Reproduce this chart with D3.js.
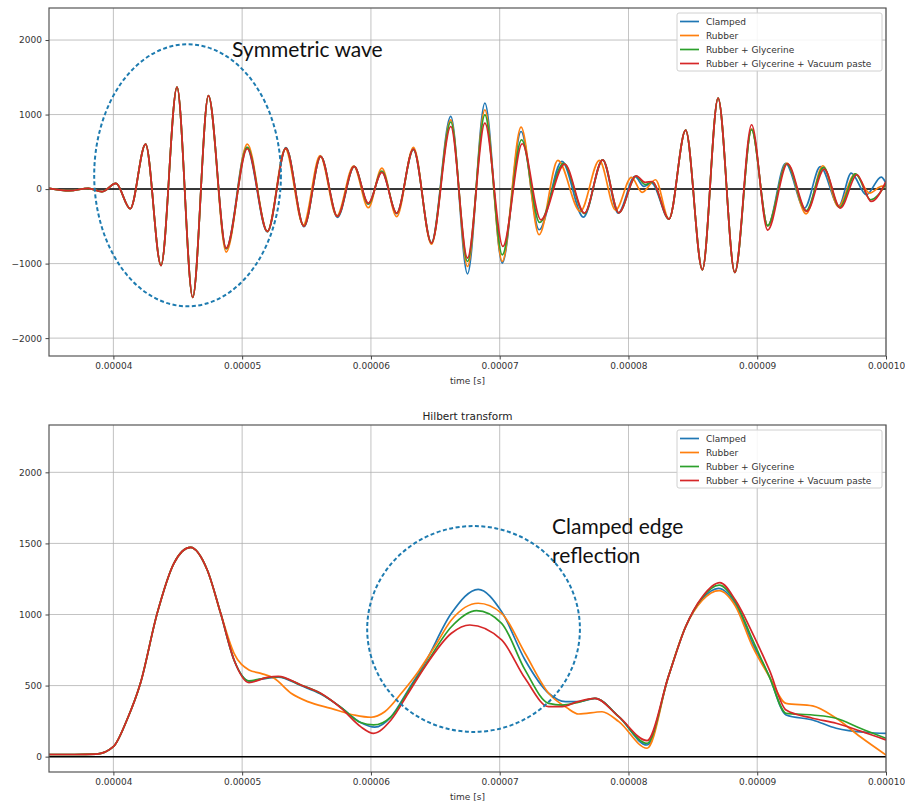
<!DOCTYPE html>
<html><head><meta charset="utf-8">
<script src="https://cdn.jsdelivr.net/npm/d3@7"></script>
<style>body{margin:0;background:#fff}</style>
</head><body><svg id="c" width="905" height="804"></svg>
<script>
// ---------- data (time in microseconds) ----------
const seriesNames = ["Clamped", "Rubber", "Rubber + Glycerine", "Rubber + Glycerine + Vacuum paste"];
const seriesColors = ["#1f77b4", "#ff7f0e", "#2ca02c", "#d62728"];
const xTickValues = [40, 50, 60, 70, 80, 90, 100];
const xTickLabels = ["0.00004", "0.00005", "0.00006", "0.00007", "0.00008", "0.00009", "0.00010"];
const topYTicks = [-2000, -1000, 0, 1000, 2000];
const topYLabels = ["\u22122000", "\u22121000", "0", "1000", "2000"];
const botYTicks = [0, 500, 1000, 1500, 2000];
const botYLabels = ["0", "500", "1000", "1500", "2000"];

// raw signal: shared onset, then per-series extrema
const waveOnset = [[35,10],[36.6,-22],[38.06,10],[39.1,-35],[40.2,76],[41.31,-264],[42.5,604],[43.7,-1025],[44.94,1369],[46.16,-1454],[47.38,1253]];
const waveClamped = [[48.76,-800],[50.35,560],[51.96,-575],[53.4,555],[54.8,-505],[56.1,440],[57.4,-380],[58.7,300],[59.8,-200],[60.85,230],[62.0,-330],[63.3,530],[64.7,-720],[66.2,975],[67.5,-1137],[68.85,1154],[70.2,-993],[71.66,773],[73.06,-546],[74.83,371],[76.5,-376],[78.0,393],[79.2,-322],[80.5,170],[81.2,35],[81.8,80],[83.15,-403],[84.44,790],[85.74,-1083],[86.96,1221],[88.26,-1119],[89.56,805],[90.81,-493],[92.2,345],[93.67,-255],[94.9,300],[96.34,-224],[97.3,215],[98.47,-77],[99.63,161],[100,80]];
const waveRubber = [[48.76,-845],[50.4,604],[51.96,-570],[53.35,540],[54.75,-480],[56.05,450],[57.35,-360],[58.65,310],[59.8,-250],[60.85,282],[62.0,-370],[63.3,560],[64.7,-740],[66.2,930],[67.5,-1039],[68.85,1064],[70.2,-971],[71.66,832],[73.06,-613],[74.52,384],[76.26,-300],[77.74,385],[79.0,-282],[80.23,156],[81.06,-45],[82.1,125],[83.15,-403],[84.44,790],[85.74,-1083],[86.96,1221],[88.26,-1119],[89.56,805],[90.81,-493],[92.3,349],[93.8,-332],[95.1,313],[96.3,-235],[97.6,205],[98.72,-54],[99.7,40],[100,35]];
const waveGlycerine = [[48.76,-800],[50.4,560],[51.96,-568],[53.4,550],[54.8,-500],[56.1,438],[57.4,-367],[58.7,304],[59.8,-200],[60.85,240],[62.0,-322],[63.3,537],[64.7,-725],[66.2,900],[67.5,-972],[68.85,997],[70.2,-882],[71.7,662],[73.1,-448],[74.96,345],[76.58,-330],[78.0,393],[79.25,-318],[80.6,175],[81.3,60],[81.84,95],[83.15,-403],[84.44,790],[85.74,-1083],[86.96,1221],[88.26,-1119],[89.56,796],[90.81,-490],[92.3,340],[93.8,-290],[95.15,290],[96.4,-245],[97.64,205],[98.8,-143],[100,70]];
const waveVacuum = [[48.76,-792],[50.4,541],[51.96,-568],[53.4,550],[54.8,-500],[56.1,438],[57.4,-367],[58.7,304],[59.8,-188],[60.85,225],[62.0,-322],[63.3,537],[64.7,-725],[66.2,840],[67.5,-926],[68.85,886],[70.25,-770],[71.75,608],[73.2,-412],[75.04,335],[76.58,-322],[78.0,393],[79.25,-318],[80.6,178],[81.3,90],[81.84,102],[83.15,-403],[84.44,790],[85.74,-1083],[86.96,1221],[88.26,-1119],[89.56,863],[90.81,-550],[92.35,340],[93.85,-300],[95.2,268],[96.45,-255],[97.75,192],[98.85,-166],[100,102]];

// Hilbert envelope: shared onset, then per-series
const envOnset = [[35,15],[37,15],[38.7,18],[40,70],[41.05,258],[42.1,516],[43.4,1008],[44.7,1360],[45.99,1472],[47.29,1313],[48.33,1008]];
const envClamped = [[49.37,680],[50.6,530],[51.5,545],[52.8,560],[54.56,500],[56.1,440],[57.7,345],[59.2,240],[60.3,207],[61.56,280],[62.9,470],[64.2,660],[66.25,1008],[68.33,1177],[70.15,1020],[71.97,680],[73.8,446],[75.1,387],[76.2,387],[77.4,410],[79.25,281],[81.45,82],[83.1,563],[84.44,914],[85.74,1110],[87.0,1184],[88.3,1075],[89.64,797],[90.94,563],[92.24,293],[94.3,258],[96.13,200],[98.5,170],[100,164]];
const envRubber = [[49.37,727],[50.53,610],[51.45,586],[52.49,551],[53.8,446],[55.1,387],[56.9,340],[58.7,293],[60.0,277],[61.07,316],[62.36,446],[63.67,598],[64.95,774],[66.25,961],[68.33,1079],[70.15,1008],[71.97,727],[73.8,446],[75.2,345],[76.13,300],[77.95,316],[79.25,246],[81.45,59],[83.1,563],[84.44,914],[85.74,1100],[87.04,1168],[88.3,1060],[89.64,774],[90.94,563],[92.24,375],[94.3,357],[96.13,270],[98,140],[100,12]];
const envGlycerine = [[49.37,680],[50.53,533],[51.5,548],[52.8,562],[54.56,504],[56.1,445],[57.7,345],[59.2,240],[60.2,223],[61.56,280],[62.9,460],[64.2,640],[66.25,914],[68.2,1027],[70.15,938],[71.97,610],[73.8,375],[74.85,363],[76,380],[77.4,410],[79.25,281],[81.45,94],[83.1,563],[84.44,914],[85.74,1120],[87.04,1207],[88.3,1090],[89.64,821],[90.94,563],[92.24,305],[94.3,293],[96.13,270],[98,200],[100,129]];
const envVacuum = [[49.37,680],[50.53,521],[51.96,558],[52.8,565],[54.56,504],[56.1,446],[57.7,340],[59.2,211],[60.2,164],[61.56,258],[62.9,446],[64.2,633],[66.25,868],[67.68,926],[70.15,821],[71.97,551],[73.8,352],[74.85,352],[76,385],[77.4,410],[79.25,281],[81.45,113],[83.1,563],[84.44,914],[85.74,1125],[87.1,1224],[88.3,1102],[89.64,868],[90.94,610],[92.24,328],[94.3,270],[96.13,235],[98,180],[100,117]];

const topSeries = [waveClamped, waveRubber, waveGlycerine, waveVacuum].map(s => waveOnset.concat(s));
const botSeries = [envClamped, envRubber, envGlycerine, envVacuum].map(s => envOnset.concat(s));

// ---------- drawing ----------
const svg = d3.select("#c");
const L = 49, R = 886;
const font = "DejaVu Sans, sans-serif";
const annoFont = "Lato, 'Noto Sans', sans-serif";

function panel(id, top, bottom, yDomain, yTicks, yLabels, series, legendY) {
  const x = d3.scaleLinear().domain([35, 100]).range([L, R]);
  const y = d3.scaleLinear().domain(yDomain).range([bottom, top]);
  const g = svg.append("g");
  g.append("clipPath").attr("id", "clip" + id).append("rect")
    .attr("x", L).attr("y", top).attr("width", R - L).attr("height", bottom - top);
  g.selectAll(".gx").data(xTickValues).join("line")
    .attr("x1", d => x(d)).attr("x2", d => x(d)).attr("y1", top).attr("y2", bottom)
    .attr("stroke", "#b0b0b0").attr("stroke-width", 0.9).attr("opacity", 0.85);
  g.selectAll(".gy").data(yTicks).join("line")
    .attr("x1", L).attr("x2", R).attr("y1", d => y(d)).attr("y2", d => y(d))
    .attr("stroke", "#b0b0b0").attr("stroke-width", 0.9).attr("opacity", 0.85);
  g.append("line").attr("x1", L).attr("x2", R).attr("y1", y(0)).attr("y2", y(0))
    .attr("stroke", "#000").attr("stroke-width", 1.5);
  const line = d3.line().x(d => x(d[0])).y(d => y(d[1])).curve(d3.curveMonotoneX);
  const lg = g.append("g").attr("clip-path", `url(#clip${id})`);
  series.forEach((s, i) => {
    lg.append("path").attr("d", line(s)).attr("fill", "none")
      .attr("stroke", seriesColors[i]).attr("stroke-width", 1.7).attr("stroke-linejoin", "round");
  });
  g.append("rect").attr("x", L).attr("y", top).attr("width", R - L).attr("height", bottom - top)
    .attr("fill", "none").attr("stroke", "#555").attr("stroke-width", 1.2);
  const ax = g.append("g").attr("transform", `translate(0,${bottom})`)
    .call(d3.axisBottom(x).tickValues(xTickValues).tickFormat((d, i) => xTickLabels[i]).tickSize(3.5).tickPadding(3.5));
  const ay = g.append("g").attr("transform", `translate(${L},0)`)
    .call(d3.axisLeft(y).tickValues(yTicks).tickFormat((d, i) => yLabels[i]).tickSize(3.5).tickPadding(3.5));
  [ax, ay].forEach(a => {
    a.select(".domain").remove();
    a.selectAll("line").attr("stroke", "#444");
    a.selectAll("text").attr("font-family", font).attr("font-size", 9).attr("fill", "#333");
  });
  g.append("text").attr("x", (L + R) / 2).attr("y", bottom + 28).attr("text-anchor", "middle")
    .attr("font-family", font).attr("font-size", 9).attr("fill", "#333").text("time [s]");
  const leg = g.append("g").attr("transform", `translate(677,${legendY})`);
  leg.append("rect").attr("width", 205).attr("height", 58).attr("rx", 2)
    .attr("fill", "#fff").attr("fill-opacity", 0.85).attr("stroke", "#d0d0d0");
  seriesNames.forEach((n, i) => {
    const yy = 8.5 + i * 14;
    leg.append("line").attr("x1", 3).attr("x2", 22).attr("y1", yy).attr("y2", yy)
      .attr("stroke", seriesColors[i]).attr("stroke-width", 1.7);
    leg.append("text").attr("x", 29).attr("y", yy + 3.2).attr("font-family", font)
      .attr("font-size", 9).attr("fill", "#333").text(n);
  });
  return {x, y};
}

const p1 = panel(1, 8, 356, [-2240, 2430], topYTicks, topYLabels, topSeries, 13);
const p2 = panel(2, 425, 772, [-108, 2333], botYTicks, botYLabels, botSeries, 430);

svg.append("text").attr("x", (L + R) / 2).attr("y", 420).attr("text-anchor", "middle")
  .attr("font-family", font).attr("font-size", 10.5).attr("fill", "#222").text("Hilbert transform");

const ellipseColor = "#1d7bb0";
svg.append("ellipse").attr("cx", p1.x(45.76)).attr("cy", p1.y(185))
  .attr("rx", p1.x(45.76 + 7.25) - p1.x(45.76)).attr("ry", p1.y(185) - p1.y(185 + 1758))
  .attr("fill", "none").attr("stroke", ellipseColor).attr("stroke-width", 2).attr("stroke-dasharray", "4,2.5");
svg.append("text").attr("x", 232).attr("y", 57).attr("font-family", annoFont)
  .attr("font-size", 21).attr("fill", "#111").text("Symmetric wave");

svg.append("ellipse").attr("cx", p2.x(67.97)).attr("cy", p2.y(898))
  .attr("rx", p2.x(67.97 + 8.26) - p2.x(67.97)).attr("ry", p2.y(898) - p2.y(898 + 724))
  .attr("fill", "none").attr("stroke", ellipseColor).attr("stroke-width", 2).attr("stroke-dasharray", "4,2.5");
svg.append("text").attr("x", 552).attr("y", 534).attr("font-family", annoFont)
  .attr("font-size", 21).attr("fill", "#111").text("Clamped edge");
svg.append("text").attr("x", 552).attr("y", 563).attr("font-family", annoFont)
  .attr("font-size", 21).attr("fill", "#111").text("reflection");
</script></body></html>
